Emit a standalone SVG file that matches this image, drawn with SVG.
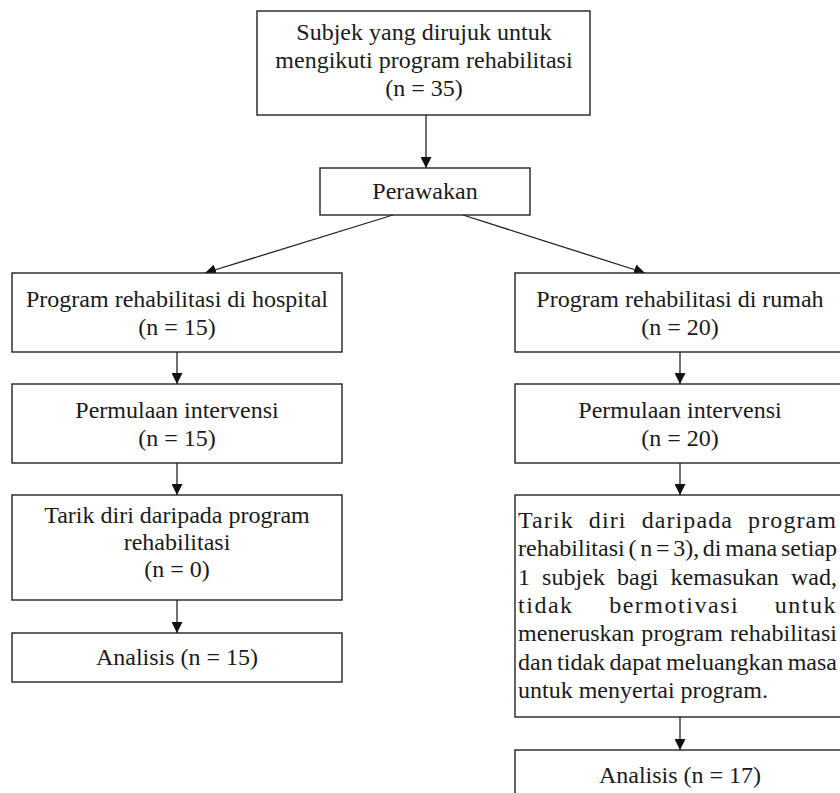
<svg xmlns="http://www.w3.org/2000/svg" width="840" height="793" viewBox="0 0 840 793">
<style>
  .box { fill: #ffffff; stroke: #222222; stroke-width: 1.4; }
  .t { font-family: "Liberation Serif", "Times New Roman", serif; font-size: 24px; fill: #1a1a1a; }
  .c { text-anchor: middle; }
  .edge { stroke: #222222; stroke-width: 1.3; fill: none; marker-end: url(#arrow); }
</style>
<defs>
  <marker id="arrow" markerUnits="userSpaceOnUse" markerWidth="11" markerHeight="11" viewBox="0 0 10 10" refX="10" refY="5" orient="auto">
    <path d="M0,0 L10,5 L0,10 z" fill="#111111"/>
  </marker>
</defs>
<rect width="840" height="793" fill="#ffffff"/>

<g id="connectors">
  <line class="edge" x1="426" y1="115" x2="426" y2="168"/>
  <line class="edge" x1="393" y1="215" x2="205" y2="273"/>
  <line class="edge" x1="463" y1="215" x2="645" y2="273"/>
  <line class="edge" x1="177" y1="352" x2="177" y2="384"/>
  <line class="edge" x1="177" y1="463" x2="177" y2="495"/>
  <line class="edge" x1="177" y1="600" x2="177" y2="633"/>
  <line class="edge" x1="680" y1="352" x2="680" y2="384"/>
  <line class="edge" x1="680" y1="463" x2="680" y2="495"/>
  <line class="edge" x1="680" y1="717" x2="680" y2="750"/>
</g>

<g id="node-subjek">
  <rect class="box" x="257" y="11" width="333" height="104"/>
  <text class="t c" x="424" y="40">Subjek yang dirujuk untuk</text>
  <text class="t c" x="424" y="68">mengikuti program rehabilitasi</text>
  <text class="t c" x="424" y="96">(n = 35)</text>
</g>

<g id="node-perawakan">
  <rect class="box" x="320" y="168" width="210" height="47"/>
  <text class="t c" x="425" y="199">Perawakan</text>
</g>

<g id="node-hospital">
  <rect class="box" x="12" y="273" width="330" height="79"/>
  <text class="t c" x="177" y="307">Program rehabilitasi di hospital</text>
  <text class="t c" x="177" y="335">(n = 15)</text>
</g>

<g id="node-permulaan-kiri">
  <rect class="box" x="12" y="384" width="330" height="79"/>
  <text class="t c" x="177" y="418">Permulaan intervensi</text>
  <text class="t c" x="177" y="446">(n = 15)</text>
</g>

<g id="node-tarik-kiri">
  <rect class="box" x="12" y="495" width="330" height="105"/>
  <text class="t c" x="177" y="523">Tarik diri daripada program</text>
  <text class="t c" x="177" y="550">rehabilitasi</text>
  <text class="t c" x="177" y="577">(n = 0)</text>
</g>

<g id="node-analisis-kiri">
  <rect class="box" x="12" y="633" width="330" height="49"/>
  <text class="t c" x="177" y="665">Analisis (n = 15)</text>
</g>

<g id="node-rumah">
  <rect class="box" x="515" y="273" width="330" height="79"/>
  <text class="t c" x="680" y="307">Program rehabilitasi di rumah</text>
  <text class="t c" x="680" y="335">(n = 20)</text>
</g>

<g id="node-permulaan-kanan">
  <rect class="box" x="515" y="384" width="330" height="79"/>
  <text class="t c" x="680" y="418">Permulaan intervensi</text>
  <text class="t c" x="680" y="446">(n = 20)</text>
</g>

<g id="node-tarik-kanan">
  <rect class="box" x="515" y="495" width="330" height="222"/>
  <text class="t" x="518" y="528" textLength="319" lengthAdjust="spacing" letter-spacing="1" word-spacing="8">Tarik diri daripada program</text>
  <text class="t" x="518" y="556" textLength="319" lengthAdjust="spacing" word-spacing="-2.3">rehabilitasi ( n = 3), di mana setiap</text>
  <text class="t" x="518" y="585" textLength="319" lengthAdjust="spacing" word-spacing="6">1 subjek bagi kemasukan wad,</text>
  <text class="t" x="518" y="613" textLength="319" lengthAdjust="spacing" letter-spacing="1.5" word-spacing="28">tidak bermotivasi untuk</text>
  <text class="t" x="518" y="641" textLength="319" lengthAdjust="spacing" word-spacing="1">meneruskan program rehabilitasi</text>
  <text class="t" x="518" y="670" textLength="319" lengthAdjust="spacing" word-spacing="-1.5">dan tidak dapat meluangkan masa</text>
  <text class="t" x="518" y="698">untuk menyertai program.</text>
</g>

<g id="node-analisis-kanan">
  <rect class="box" x="515" y="750" width="330" height="60"/>
  <text class="t c" x="680" y="783">Analisis (n = 17)</text>
</g>
</svg>
